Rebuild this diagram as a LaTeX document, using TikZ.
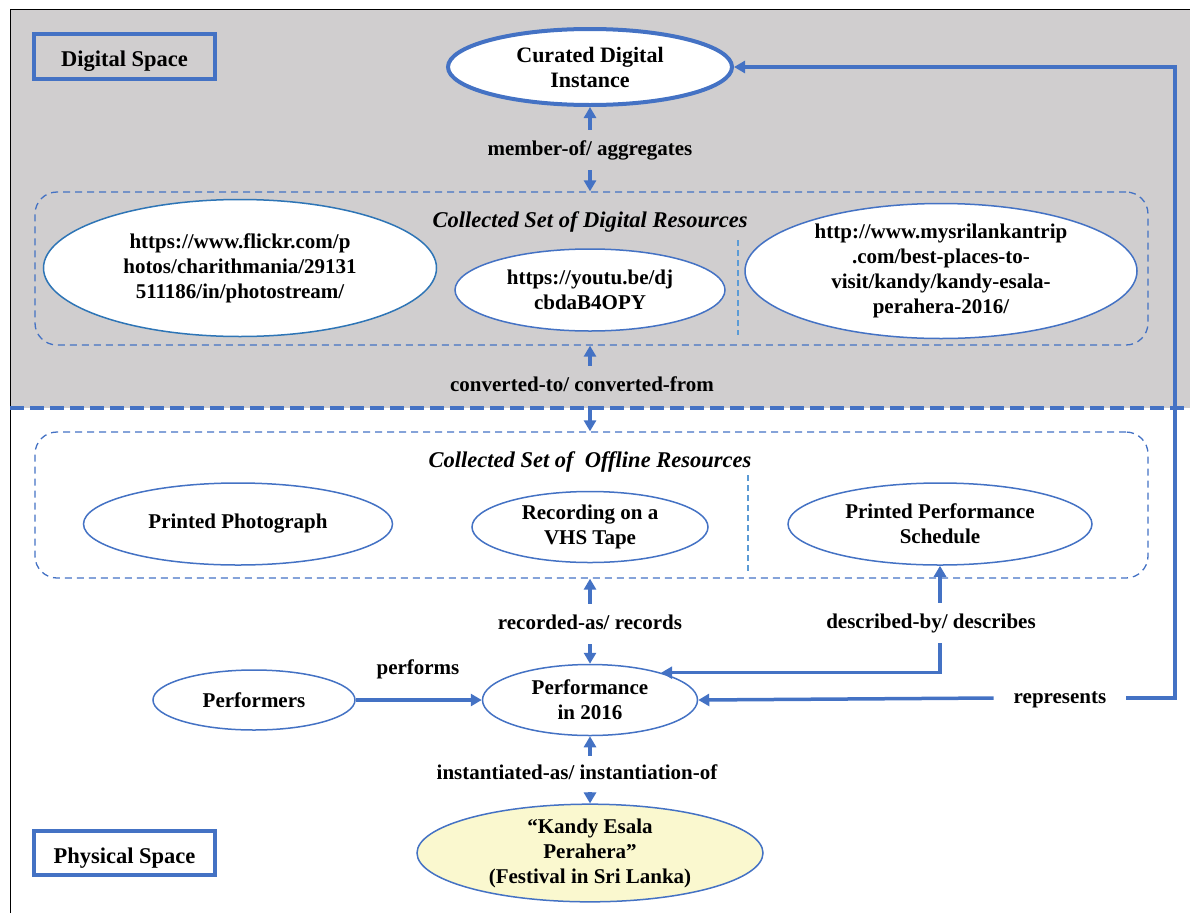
\documentclass[tikz,border=0pt]{standalone}
\usepackage{fontspec}
\setmainfont{Liberation Serif}
\usetikzlibrary{shapes.geometric,arrows.meta,calc}
\definecolor{accent}{HTML}{4472C4}
\definecolor{linkblue}{HTML}{2E75B6}
\definecolor{lightaccent}{HTML}{5B9BD5}
\definecolor{panel}{HTML}{D0CECF}
\definecolor{festival}{HTML}{FAF8CF}
\begin{document}
\begin{tikzpicture}[x=1pt,y=-1pt,
  txt/.style={font=\bfseries\fontsize{21}{25}\selectfont, align=center},
  oval/.style={ellipse, draw=accent, line width=1.5pt, fill=white, inner sep=0pt, txt},
  spacebox/.style={draw=accent, line width=4pt, inner sep=0pt, minimum width=181pt,
    minimum height=45pt, text height=21pt, text depth=1pt,
    font=\bfseries\fontsize{22.5}{26}\selectfont},
  group/.style={draw=accent, dash pattern=on 7pt off 5pt, line width=1.3pt,
    rounded corners=22pt, inner sep=0pt},
  splitter/.style={draw=lightaccent, dash pattern=on 6pt off 4pt, line width=1.6pt},
  rel/.style={draw=accent, line width=3.5pt, -{Triangle[length=11pt,width=12pt]}},
  lbl/.style={txt, text height=14pt, text depth=4pt, inner xsep=2pt, inner ysep=11pt},
  settitle/.style={font=\bfseries\itshape\fontsize{22.5}{26}\selectfont}
]
\useasboundingbox (0,0) rectangle (1190,913);

% digital space panel, frame and divider
\fill[panel] (10,9) rectangle (1190,408);
\draw[black, line width=1pt] (10,913) -- (10,9) -- (1190,9);
\draw[accent, line width=4pt, dash pattern=on 14pt off 6pt] (10,408) -- (1190,408);

% space labels
\node[spacebox] (dspace) at (124.5,56.5) {Digital Space};
\node[spacebox, minimum height=44pt] (pspace) at (124.5,853) {Physical Space};

% curated instance
\node[oval, line width=4pt, minimum width=284pt, minimum height=76pt,
  font=\bfseries\fontsize{22}{25}\selectfont] (curated) at (590,67) {Curated Digital\\Instance};

% collected set of digital resources
\node[group, minimum width=1113pt, minimum height=153pt] (dset) at (591.5,268.5) {};
\node[settitle] (dtitle) at (590,222) {Collected Set of Digital Resources};
\node[oval, draw=linkblue, minimum width=393pt, minimum height=137pt] (flickr) at (240,268)
  {https://www.flickr.com/p\\hotos/charithmania/29131\\511186/in/photostream/};
\node[oval, minimum width=270pt, minimum height=82pt] (youtube) at (590,290)
  {https://youtu.be/dj\\cbdaB4OPY};
\node[oval, minimum width=392pt, minimum height=135pt] (trip) at (941,271)
  {http://www.mysrilankantrip\\.com/best-places-to-\\visit/kandy/kandy-esala-\\perahera-2016/};
\coordinate (dsplitA) at (738,240);
\coordinate (dsplitB) at (738,335);
\draw[splitter] (dsplitA) -- (dsplitB);

% collected set of offline resources
\node[group, minimum width=1113pt, minimum height=146pt] (oset) at (591.5,505) {};
\node[settitle] (otitle) at (590,462) {Collected Set of\ \ Offline Resources};
\node[oval, minimum width=309pt, minimum height=82pt] (photo) at (238,524) {Printed Photograph};
\node[oval, minimum width=236pt, minimum height=71pt] (vhs) at (590,527) {Recording on a\\VHS Tape};
\node[oval, minimum width=304pt, minimum height=82pt] (sched) at (940,524) {Printed Performance\\Schedule};
\coordinate (osplitA) at (748,475);
\coordinate (osplitB) at (748,572);
\draw[splitter] (osplitA) -- (osplitB);

% physical space
\node[oval, minimum width=202pt, minimum height=60pt] (performers) at (254,700) {Performers};
\node[oval, minimum width=215pt, minimum height=71pt] (perf) at (590,700) {Performance\\in 2016};
\node[oval, fill=festival, minimum width=346pt, minimum height=90pt] (kandy) at (590,853)
  {\textquotedblleft Kandy Esala\\Perahera\textquotedblright\\(Festival in Sri Lanka)};

% relation labels
\node[lbl] (member) at (590,150) {member-of/ aggregates};
\node[lbl] (convert) at (582,386) {converted-to/ converted-from};
\node[lbl] (record) at (590,624) {recorded-as/ records};
\node[lbl] (describe) at (931,623) {described-by/ describes};
\node[lbl, inner xsep=20pt] (represent) at (1060,698) {represents};
\node[txt] (performs) at (418,669) {performs};
\node[lbl, inner ysep=9pt] (inst) at (577,774) {instantiated-as/ instantiation-of};

% connectors
\draw[rel] (member.north -| curated.south) -- (curated.south);
\draw[rel] (member.south -| curated.south) -- (dset.north -| curated.south);
\draw[rel] (convert.north -| curated.south) -- (dset.south -| curated.south);
\draw[rel] (convert.south -| curated.south) -- (oset.north -| curated.south);
\draw[rel] (record.north -| perf.north) -- (oset.south -| perf.north);
\draw[rel] (record.south -| perf.north) -- (perf.north);
\draw[rel] (describe.north -| sched.south) -- (sched.south);
\draw[rel] (describe.south -| sched.south) |- (perf.21);
\draw[rel] (performers.east) -- (perf.west);
\draw[rel] (represent.west) -- (perf.east);
\coordinate (rtrack) at (1175,400);
\draw[rel] (represent.east) -| (rtrack) |- (curated.east);
\draw[rel] (inst.north -| perf.south) -- (perf.south);
\draw[rel] (inst.south -| kandy.north) -- (kandy.north);
\end{tikzpicture}
\end{document}
